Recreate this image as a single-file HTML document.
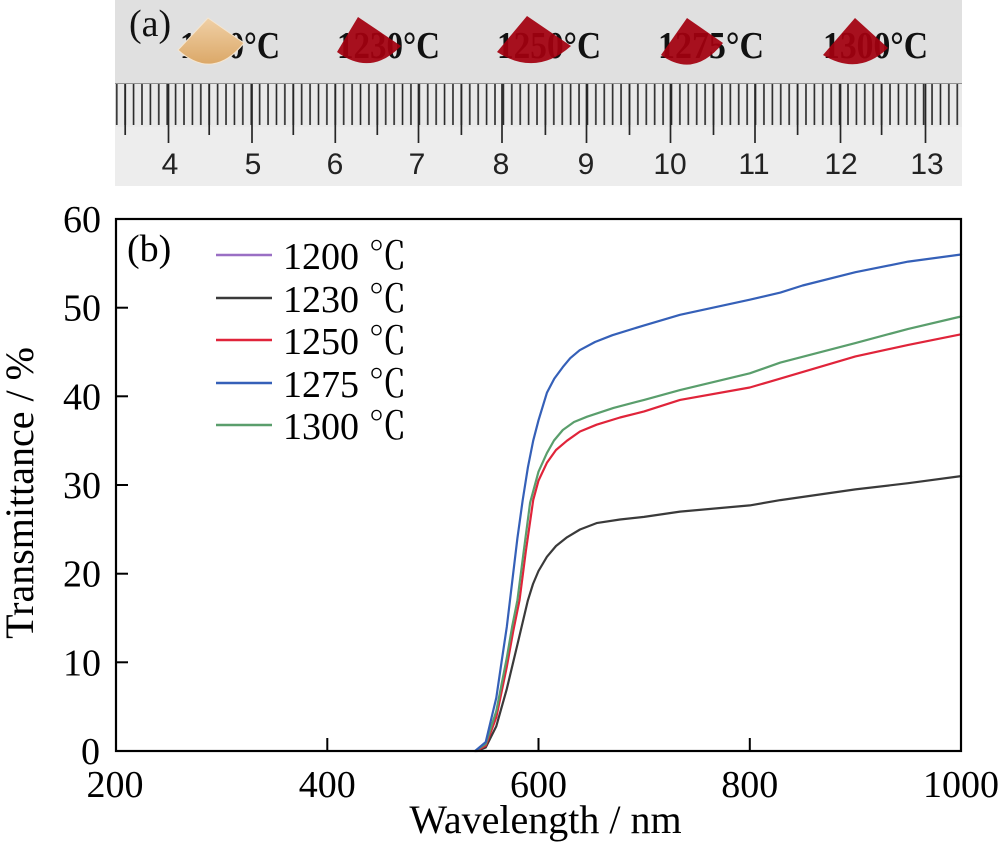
<!DOCTYPE html>
<html>
<head>
<meta charset="utf-8">
<style>
html,body{margin:0;padding:0;background:#fff;}
svg{display:block;}
.ser{font-family:"Liberation Serif","Noto Serif CJK SC",serif;}
.san{font-family:"Liberation Sans",sans-serif;}
</style>
</head>
<body>
<svg width="1000" height="856" viewBox="0 0 1000 856" xmlns="http://www.w3.org/2000/svg">
<defs>
<pattern id="mm" patternUnits="userSpaceOnUse" x="166.2" y="0" width="8.405" height="200">
<line x1="1" y1="0" x2="1" y2="200" stroke="#262626" stroke-width="1.6"/>
</pattern>
<linearGradient id="tan" x1="0" y1="0" x2="0" y2="1">
<stop offset="0" stop-color="#f0d0a6"/>
<stop offset="1" stop-color="#dba868"/>
</linearGradient>
</defs>

<!-- Photo (a) -->
<rect x="115" y="0" width="847" height="186" fill="#e0e0e0"/>
<rect x="115" y="83" width="847" height="44" fill="#e9e9e9"/>
<rect x="115" y="127" width="847" height="59" fill="#ededed"/>
<line x1="115" y1="83.5" x2="962" y2="83.5" stroke="#8f8f8f" stroke-width="1"/>
<rect x="115" y="84" width="847" height="41" fill="url(#mm)"/>
<g stroke="#262626" stroke-width="1.7">
<line x1="125.2" y1="84" x2="125.2" y2="135"/>
<line x1="209.2" y1="84" x2="209.2" y2="135"/>
<line x1="293.3" y1="84" x2="293.3" y2="135"/>
<line x1="377.3" y1="84" x2="377.3" y2="135"/>
<line x1="461.4" y1="84" x2="461.4" y2="135"/>
<line x1="545.4" y1="84" x2="545.4" y2="135"/>
<line x1="629.5" y1="84" x2="629.5" y2="135"/>
<line x1="713.5" y1="84" x2="713.5" y2="135"/>
<line x1="797.6" y1="84" x2="797.6" y2="135"/>
<line x1="881.6" y1="84" x2="881.6" y2="135"/>
<line x1="168.5" y1="84" x2="168.5" y2="143"/>
<line x1="252" y1="84" x2="252" y2="143"/>
<line x1="335.3" y1="84" x2="335.3" y2="143"/>
<line x1="418.5" y1="84" x2="418.5" y2="143"/>
<line x1="502" y1="84" x2="502" y2="143"/>
<line x1="586.5" y1="84" x2="586.5" y2="143"/>
<line x1="670.5" y1="84" x2="670.5" y2="143"/>
<line x1="755" y1="84" x2="755" y2="143"/>
<line x1="840.5" y1="84" x2="840.5" y2="143"/>
<line x1="925.5" y1="84" x2="925.5" y2="143"/>
</g>
<g class="san" font-size="30" fill="#222" text-anchor="middle">
<text x="170" y="174">4</text>
<text x="253" y="174">5</text>
<text x="335" y="174">6</text>
<text x="417" y="174">7</text>
<text x="501" y="174">8</text>
<text x="586" y="174">9</text>
<text x="670" y="174">10</text>
<text x="754" y="174">11</text>
<text x="841" y="174">12</text>
<text x="927" y="174">13</text>
</g>
<text class="ser" x="129" y="36" font-size="38" fill="#111">(a)</text>
<g class="ser" font-size="38" font-weight="bold" fill="#111">
<text x="180" y="58" textLength="100" lengthAdjust="spacingAndGlyphs">1200°C</text>
<text x="337" y="58" textLength="103" lengthAdjust="spacingAndGlyphs">1230°C</text>
<text x="497" y="58" textLength="104" lengthAdjust="spacingAndGlyphs">1250°C</text>
<text x="658" y="58" textLength="106" lengthAdjust="spacingAndGlyphs">1275°C</text>
<text x="823" y="58" textLength="105" lengthAdjust="spacingAndGlyphs">1300°C</text>
</g>
<path d="M208 18 L178 50 Q213 81.5 244 43 Z" fill="url(#tan)" stroke="#f4e6d2" stroke-width="1"/>
<g fill="#a3000f" fill-opacity="0.93">
<path d="M358 17 L337 52 Q371 77 401 46 Z"/>
<path d="M527 16 L497 52 Q536 77 571 46 Z"/>
<path d="M687 18 L661 55 Q694 79 723 43 Z"/>
<path d="M855 18 L823 55 Q858.5 76.5 888 48 Z"/>
</g>

<!-- Plot (b) -->
<g fill="none" stroke-width="2.2" stroke-linejoin="round" stroke-linecap="round">
<polyline stroke="#3a3a3a" points="477,751 485.7,747.5 496.3,726.2 506.8,688.9 517.4,644.6 527.9,600.3 533,584 538.5,571 546.9,556.8 556,546 567,537.3 580,529.5 596.6,523.1 620,519.5 644.1,516.9 680,511.6 749.8,505.4 780.4,500.1 855.4,489.4 908.2,483.2 961,476.1"/>
<polyline stroke="#e0243a" points="476,751 485.7,745.7 496.3,717.3 506.8,666.8 513.2,631.3 519.5,600.3 525.8,551.5 533.2,500.1 538.5,480.6 546.9,462.8 556,450 567,440.7 580,431.5 596.6,424.7 620,417.5 644.1,411.4 680,399.9 749.8,387.5 780.4,378.6 855.4,356.4 908.2,344.9 961,334.3"/>
<polyline stroke="#5a9e6c" points="475.1,751 485.7,743.9 496.3,711.1 506.8,657.9 512.1,626.9 517.4,600.3 523.7,551.5 530.1,502.7 538.5,471.7 546.9,453.1 554,440.5 562.8,430 574,422 587.1,416.7 613.5,407.9 644.1,399.9 680,390.1 749.8,373.3 780.4,362.6 855.4,343.1 908.2,328.9 961,316.5"/>
<polyline stroke="#3560b8" points="475.1,751 485.7,742.1 496.3,697.8 501.5,662.3 506.8,626.9 512.1,582.5 517.4,538.2 522.7,500.1 527.9,467.3 533.2,440.7 538.5,420.3 546.9,392.8 554.3,378.6 562.8,367.1 570.2,358.2 579.7,350.2 595,342 612.4,335.2 644.1,325.4 680,314.8 749.8,299.7 780.4,292.6 802.6,285.5 855.4,272.2 908.2,261.6 961,254.5"/>
</g>

<!-- Frame -->
<rect x="116" y="219" width="845" height="532" fill="none" stroke="#000" stroke-width="2.2"/>
<g stroke="#000" stroke-width="2">
<line x1="116" y1="662.3" x2="128" y2="662.3"/>
<line x1="116" y1="573.7" x2="128" y2="573.7"/>
<line x1="116" y1="485" x2="128" y2="485"/>
<line x1="116" y1="396.3" x2="128" y2="396.3"/>
<line x1="116" y1="307.7" x2="128" y2="307.7"/>
<line x1="327.3" y1="751" x2="327.3" y2="738"/>
<line x1="538.5" y1="751" x2="538.5" y2="738"/>
<line x1="749.8" y1="751" x2="749.8" y2="738"/>
</g>

<!-- Tick labels -->
<g class="ser" font-size="38" fill="#000" text-anchor="end">
<text x="101" y="232">60</text>
<text x="101" y="320.7">50</text>
<text x="101" y="409.3">40</text>
<text x="101" y="498">30</text>
<text x="101" y="586.7">20</text>
<text x="101" y="675.3">10</text>
<text x="100" y="764">0</text>
</g>
<g class="ser" font-size="38" fill="#000" text-anchor="middle">
<text x="115" y="797">200</text>
<text x="327.3" y="797">400</text>
<text x="538.5" y="797">600</text>
<text x="749.8" y="797">800</text>
<text x="961" y="797">1000</text>
</g>

<!-- Axis titles -->
<text class="ser" x="545.5" y="833" font-size="40" fill="#000" text-anchor="middle">Wavelength / nm</text>
<text class="ser" transform="translate(33,493) rotate(-90)" x="0" y="0" font-size="40" fill="#000" text-anchor="middle">Transmittance / %</text>

<!-- (b) and legend -->
<text class="ser" x="127" y="261" font-size="38" fill="#000">(b)</text>
<g stroke-width="2.5">
<line x1="216" y1="255" x2="272" y2="255" stroke="#9a6fc4"/>
<line x1="216" y1="298" x2="272" y2="298" stroke="#3a3a3a"/>
<line x1="216" y1="340" x2="272" y2="340" stroke="#e0243a"/>
<line x1="216" y1="383" x2="272" y2="383" stroke="#3560b8"/>
<line x1="216" y1="425" x2="272" y2="425" stroke="#5a9e6c"/>
</g>
<g class="ser" font-size="38" fill="#000">
<text x="283" y="269">1200 ℃</text>
<text x="283" y="312">1230 ℃</text>
<text x="283" y="354">1250 ℃</text>
<text x="283" y="397">1275 ℃</text>
<text x="283" y="439">1300 ℃</text>
</g>
</svg>
</body>
</html>
